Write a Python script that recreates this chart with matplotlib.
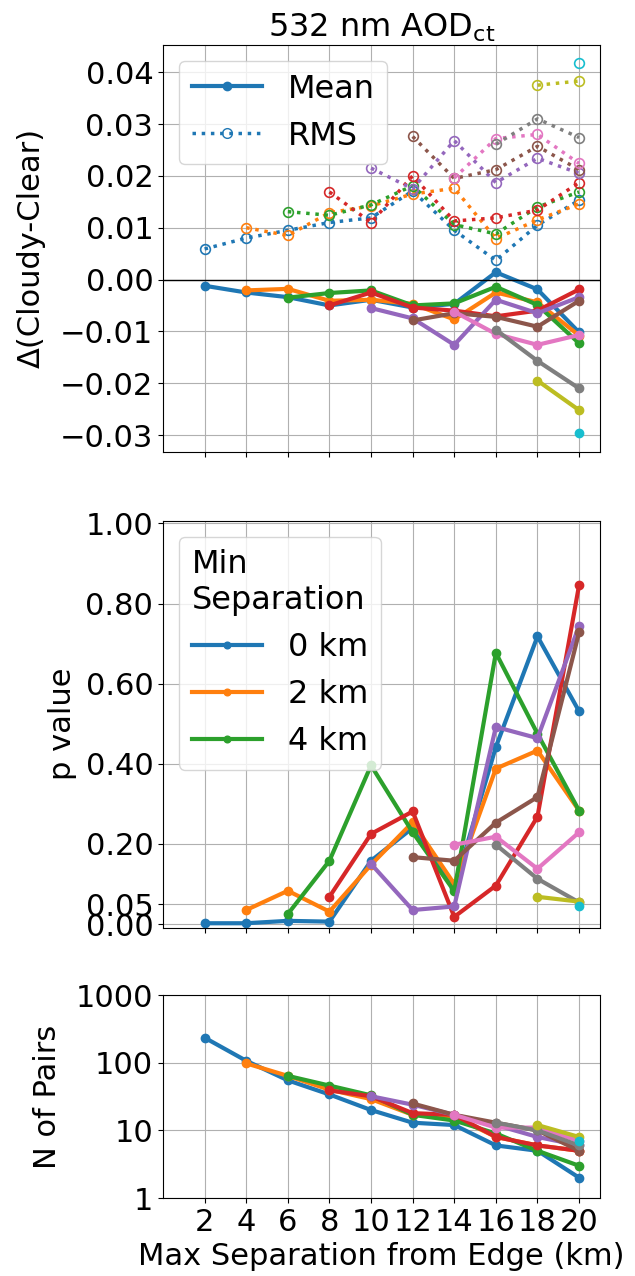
import matplotlib
matplotlib.use('Agg')
import matplotlib.pyplot as plt
from matplotlib.lines import Line2D
from matplotlib.ticker import FuncFormatter, NullLocator

plt.rcParams['font.size'] = 22

# max separation from cloud edge (km); series i starts at max_sep[i]
max_sep = [2, 4, 6, 8, 10, 12, 14, 16, 18, 20]
min_sep_labels = ['0 km', '2 km', '4 km', '6 km', '8 km',
                  '10 km', '12 km', '14 km', '16 km', '18 km']

# mean cloudy-clear difference, one list per min separation
mean_diff = [
    [-0.0012, -0.0025, -0.0034, -0.0050, -0.0039, -0.0054, -0.0047, 0.0014, -0.0019, -0.0102],
    [-0.0021, -0.0018, -0.0041, -0.0039, -0.0047, -0.0077, -0.0025, -0.0044, -0.0108],
    [-0.0035, -0.0026, -0.0021, -0.0050, -0.0046, -0.0014, -0.0049, -0.0123],
    [-0.0050, -0.0025, -0.0054, -0.0060, -0.0071, -0.0060, -0.0019],
    [-0.0055, -0.0075, -0.0126, -0.0039, -0.0065, -0.0034],
    [-0.0079, -0.0065, -0.0072, -0.0091, -0.0041],
    [-0.0062, -0.0105, -0.0126, -0.0107],
    [-0.0097, -0.0157, -0.0210],
    [-0.0195, -0.0252],
    [-0.0297],
]

# RMS of cloudy-clear difference
rms_diff = [
    [0.0059, 0.0080, 0.0095, 0.0110, 0.0119, 0.0171, 0.0095, 0.0037, 0.0105, 0.0153],
    [0.0100, 0.0085, 0.0129, 0.0142, 0.0165, 0.0176, 0.0079, 0.0115, 0.0146],
    [0.0131, 0.0124, 0.0144, 0.0181, 0.0106, 0.0088, 0.0140, 0.0169],
    [0.0169, 0.0110, 0.0200, 0.0113, 0.0119, 0.0134, 0.0187],
    [0.0215, 0.0175, 0.0268, 0.0187, 0.0234, 0.0205],
    [0.0276, 0.0195, 0.0212, 0.0257, 0.0212],
    [0.0196, 0.0272, 0.0280, 0.0224],
    [0.0261, 0.0310, 0.0274],
    [0.0375, 0.0383],
    [0.0417],
]

p_value = [
    [0.002, 0.002, 0.008, 0.006, 0.158, 0.240, 0.090, 0.442, 0.718, 0.531],
    [0.035, 0.083, 0.031, 0.148, 0.254, 0.100, 0.388, 0.433, 0.283],
    [0.025, 0.158, 0.396, 0.229, 0.082, 0.677, 0.475, 0.283],
    [0.068, 0.225, 0.281, 0.018, 0.096, 0.268, 0.846],
    [0.150, 0.035, 0.044, 0.492, 0.464, 0.744],
    [0.167, 0.158, 0.253, 0.317, 0.728],
    [0.198, 0.218, 0.138, 0.229],
    [0.198, 0.113, 0.054],
    [0.068, 0.056],
    [0.044],
]

n_pairs = [
    [235, 107, 55, 34, 20, 13, 12, 6, 5, 2],
    [98, 64, 40, 29, 17, 16, 8, 6, 5],
    [64, 46, 33, 17, 14, 9, 5, 3],
    [39, 32, 18, 17, 8, 6, 5],
    [32, 24, 17, 12, 8, 6],
    [25, 17, 13, 10, 5],
    [17, 11, 11, 7],
    [13, 10, 6],
    [12, 8],
    [7],
]


def two_dec(v, pos):
    return ('%.2f' % v).replace('-', '\u2212')


fig = plt.figure(figsize=(6.35, 12.76), dpi=100)
ax1 = fig.add_axes([0.2567, 0.6458, 0.688, 0.319])
ax2 = fig.add_axes([0.2567, 0.2730, 0.688, 0.319], sharex=ax1)
ax3 = fig.add_axes([0.2567, 0.0611, 0.688, 0.159], sharex=ax1)

p_lines = []
for i in range(len(min_sep_labels)):
    x = max_sep[i:]
    c = 'C%d' % i
    ax1.plot(x, rms_diff[i], ':o', color=c, lw=2.5, ms=7, mfc='none', mew=1.2)
    ax1.plot(x, mean_diff[i], '-o', color=c, lw=3, ms=6)
    ln, = ax2.plot(x, p_value[i], '-o', color=c, lw=3, ms=6, label=min_sep_labels[i])
    p_lines.append(ln)
    ax3.plot(x, n_pairs[i], '-o', color=c, lw=3, ms=6)

# top panel
ax1.axhline(0, color='k', lw=1)
ax1.set_yticks([-0.03, -0.02, -0.01, 0.0, 0.01, 0.02, 0.03, 0.04])
ax1.yaxis.set_major_formatter(FuncFormatter(two_dec))
ax1.set_ylabel('\u0394(Cloudy-Clear)', labelpad=10)
ax1.set_title(r'532 nm AOD$_{\mathrm{ct}}$', fontsize=23)
leg_handles = [Line2D([], [], color='C0', ls='-', marker='o', lw=3, ms=6),
               Line2D([], [], color='C0', ls=':', marker='o', lw=2.5, ms=7, mfc='none')]
ax1.legend(leg_handles, ['Mean', 'RMS'], loc='upper left', handlelength=2.2,
           fontsize=23)

# middle panel
ax2.set_ylim(-0.009, 1.007)
ax2.set_yticks([0.0, 0.05, 0.2, 0.4, 0.6, 0.8, 1.0])
ax2.yaxis.set_major_formatter(FuncFormatter(two_dec))
ax2.set_ylabel('p value', labelpad=6)
ax2.legend(handles=p_lines[:3], title='Min\nSeparation', loc='upper left',
           handlelength=2.2, markerscale=0.8, fontsize=23, title_fontsize=23)
ax2.get_legend()._legend_box.align = 'left'

# bottom panel
ax3.set_yscale('log')
ax3.set_ylim(1, 1000)
ax3.set_yticks([1, 10, 100, 1000])
ax3.set_yticklabels(['1', '10', '100', '1000'])
ax3.yaxis.set_minor_locator(NullLocator())
ax3.set_ylabel('N of Pairs', labelpad=10)
ax3.set_xlabel('Max Separation from Edge (km)')

ax1.set_xticks(max_sep)
ax1.set_xlim(0, 21)
for ax in (ax1, ax2, ax3):
    ax.grid(True)
ax1.tick_params(labelbottom=False)
ax2.tick_params(labelbottom=False)

fig.savefig('out.png', dpi=100)
